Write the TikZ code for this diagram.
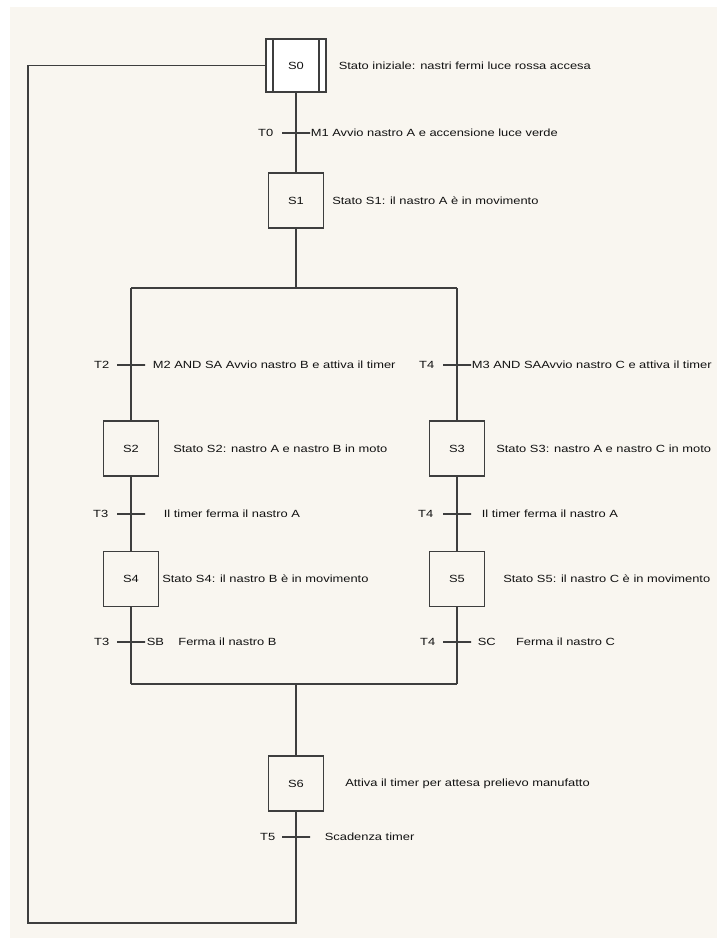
\documentclass[tikz,border=0pt]{standalone}
\usepackage{fontspec}
\newfontfamily\diagfont[FakeStretch=1.24]{Liberation Sans}
\usepackage{tikz}
\usetikzlibrary{positioning}
\definecolor{paper}{RGB}{249,246,240}
\definecolor{ink}{RGB}{62,62,62}
\definecolor{txt}{RGB}{18,18,18}

\begin{document}
\begin{tikzpicture}[
    x = 1pt, y = -1pt,
    font = \diagfont\fontsize{10.4}{12}\selectfont,
    stepbox/.style = {
      rectangle, draw = ink, line width = 1.2pt, fill = paper,
      minimum size = 55pt, inner sep = 0pt, text = txt
    },
    initstep/.style = {
      stepbox, fill = white, minimum width = 60pt, minimum height = 53pt,
      path picture = {
        \draw [ink, line width = 1.2pt]
          ([xshift = 7pt]path picture bounding box.north west)
          -- ([xshift = 7pt]path picture bounding box.south west)
          ([xshift = -7pt]path picture bounding box.north east)
          -- ([xshift = -7pt]path picture bounding box.south east);
      }
    },
    trans/.style = {
      rectangle, draw = ink, line width = 1.2pt,
      minimum width = 28pt, minimum height = 0pt, inner sep = 0pt
    },
    link/.style = {draw = ink, line width = 1.2pt},
    lbl/.style = {inner sep = 0pt, text = txt},
    ]

    % paper
    \useasboundingbox (0,0) rectangle (717,938);
    \fill [paper] (10,7) rectangle (717,938);

    % draw steps
    \node  [initstep]  (S0)  at (296,65.5)  {S0};
    \node  [stepbox]  (S1)  at (296,200.5)  {S1};
    \node  [stepbox]  (S2)  at (131,448.5)  {S2};
    \node  [stepbox]  (S3)  at (457,448.5)  {S3};
    \node  [stepbox]  (S4)  at (131,579)  {S4};
    \node  [stepbox]  (S5)  at (457,579)  {S5};
    \node  [stepbox]  (S6)  at (296,783.5)  {S6};

    % draw transitions
    \node  [trans]  (T0)  at (296,133)  {};
    \node  [trans]  (T2)  at (131,365)  {};
    \node  [trans]  (T4a)  at (457,365)  {};
    \node  [trans]  (T3)  at (131,514)  {};
    \node  [trans]  (T4b)  at (457,514)  {};
    \node  [trans]  (T3b)  at (131,642)  {};
    \node  [trans]  (T4c)  at (457,642)  {};
    \node  [trans]  (T5)  at (296,837)  {};

    \coordinate  (fork)  at (296,288);
    \coordinate  (divL)  at (131,288);
    \coordinate  (divR)  at (457,288);
    \coordinate  (join)  at (296,684);
    \coordinate  (convL)  at (131,684);
    \coordinate  (convR)  at (457,684);
    \coordinate  (back)  at (28,923);

    % transition names
    \node  [lbl, left = 8pt of T0]  (nT0)  {T0};
    \node  [lbl, left = 7pt of T2]  (nT2)  {T2};
    \node  [lbl, left = 8pt of T4a]  (nT4a)  {T4};
    \node  [lbl, left = 8pt of T3]  (nT3)  {T3};
    \node  [lbl, left = 9pt of T4b]  (nT4b)  {T4};
    \node  [lbl, left = 7pt of T3b]  (nT3b)  {T3};
    \node  [lbl, left = 7pt of T4c]  (nT4c)  {T4};
    \node  [lbl, left = 6pt of T5]  (nT5)  {T5};

    % step comments
    \node  [lbl, right = 12pt of S0]  (cS0)  {Stato iniziale: nastri fermi luce rossa accesa};
    \node  [lbl, right = 8pt of S1]  (cS1)  {Stato S1: il nastro A è in movimento};
    \node  [lbl, right = 14pt of S2]  (cS2)  {Stato S2: nastro A e nastro B in moto};
    \node  [lbl, right = 11pt of S3]  (cS3)  {Stato S3: nastro A e nastro C in moto};
    \node  [lbl, right = 3pt of S4]  (cS4)  {Stato S4: il nastro B è in movimento};
    \node  [lbl, right = 18pt of S5]  (cS5)  {Stato S5: il nastro C è in movimento};
    \node  [lbl, right = 21pt of S6]  (cS6)  {Attiva il timer per attesa prelievo manufatto};

    % receptivities
    \node  [lbl, right = 0pt of T0]  (rT0)  {M1 Avvio nastro A e accensione luce verde};
    \node  [lbl, right = 7pt of T2]  (rT2)  {M2 AND SA Avvio nastro B e attiva il timer};
    \node  [lbl, right = 0pt of T4a]  (rT4a)  {M3 AND SAAvvio nastro C e attiva il timer};
    \node  [lbl, right = 18pt of T3]  (rT3)  {Il timer ferma il nastro A};
    \node  [lbl, right = 10pt of T4b]  (rT4b)  {Il timer ferma il nastro A};
    \node  [lbl, right = 1pt of T3b]  (rSB)  {SB};
    \node  [lbl, right = 14pt of rSB]  (rT3b)  {Ferma il nastro B};
    \node  [lbl, right = 6pt of T4c]  (rSC)  {SC};
    \node  [lbl, right = 20pt of rSC]  (rT4c)  {Ferma il nastro C};
    \node  [lbl, right = 14pt of T5]  (rT5)  {Scadenza timer};

    % draw links
    \draw  [link]  (S0)  --  (T0)  --  (S1);
    \draw  [link]  (S1)  --  (fork);
    \draw  [link]  (divL)  --  (divR);
    \draw  [link]  (divL)  --  (T2)  --  (S2)  --  (T3)  --  (S4)  --  (T3b)  --  (convL);
    \draw  [link]  (divR)  --  (T4a)  --  (S3)  --  (T4b)  --  (S5)  --  (T4c)  --  (convR);
    \draw  [link]  (convL)  --  (convR);
    \draw  [link]  (join)  --  (S6)  --  (T5)  |-  (back)  |-  (S0.west);

\end{tikzpicture}
\end{document}
